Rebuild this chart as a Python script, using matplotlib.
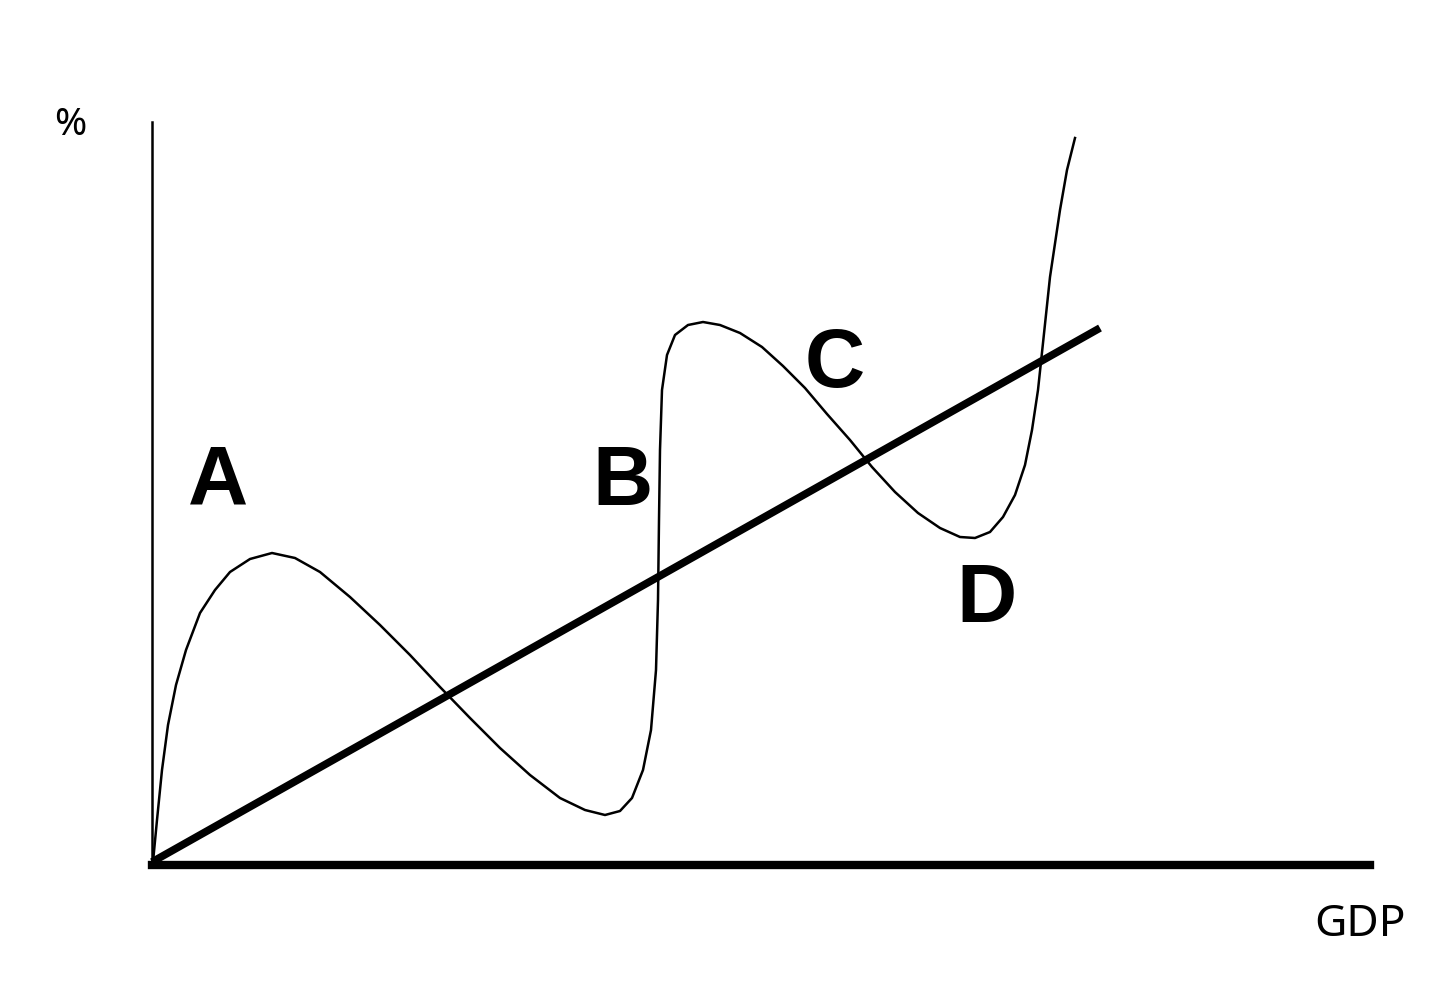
import matplotlib.pyplot as plt

# curve (GDP, %)
curve_x = [0.1, 0.5, 1.0, 1.6, 2.4, 3.4, 4.8, 6.3, 7.8, 9.8, 12.0, 14.3, 16.8, 19.8, 22.8,
           25.8, 28.8, 31.8, 34.8, 37.8, 40.8, 43.3, 45.3, 46.8, 48.0, 49.1, 49.9, 50.4,
           50.6, 50.7, 50.8, 51.0, 51.5, 52.3, 53.6, 55.1, 56.8, 58.8, 61.0, 63.1, 65.3,
           67.5, 69.8, 72.0, 74.3, 76.6, 78.8, 80.8, 82.3, 83.8, 85.1, 86.3, 87.3, 88.0,
           88.6, 89.1, 89.8, 90.8, 91.5, 92.3]
curve_y = [0.3, 4.5, 9.5, 14.0, 18.0, 21.5, 25.2, 27.5, 29.3, 30.6, 31.2, 30.7, 29.3, 26.8,
           24.0, 21.0, 17.8, 14.7, 11.7, 9.0, 6.7, 5.5, 5.0, 5.4, 6.7, 9.5, 13.5, 19.5,
           26.5, 34.5, 41.5, 47.5, 51.0, 53.0, 54.0, 54.3, 54.0, 53.2, 51.8, 49.9, 47.7,
           45.1, 42.5, 39.8, 37.3, 35.2, 33.7, 32.8, 32.7, 33.3, 34.8, 37.0, 40.0, 43.5,
           47.5, 52.2, 58.8, 65.5, 69.5, 72.7]

line_x = [0, 94.8]
line_y = [0.3, 53.7]

labels = ['A', 'B', 'C', 'D']
label_x = [6.6, 47.1, 68.3, 83.5]
label_y = [38.2, 38.2, 50.0, 26.5]

plt.rcParams['font.family'] = ['Noto Sans', 'DejaVu Sans']

fig = plt.figure(figsize=(14.4, 9.88), dpi=100)
ax = fig.add_axes([152/1440, (988-865)/988, (1370-152)/1440, (865-122)/988])

ax.plot(curve_x, curve_y, color='black', lw=1.8, solid_joinstyle='round', clip_on=False)
ax.plot(line_x, line_y, color='black', lw=5.5, solid_capstyle='butt', clip_on=False)

for t, x, y in zip(labels, label_x, label_y):
    ax.text(x, y, t, fontsize=60, fontweight='bold', family=['Liberation Sans', 'DejaVu Sans'],
            ha='center', va='center')

ax.text(-8.2, 74, '%', fontsize=28, ha='center', va='center', clip_on=False)
ax.text(120.8, -6, 'GDP', fontsize=32, ha='center', va='center', clip_on=False)

ax.set_xlim(0, 121.8)
ax.set_ylim(0, 74.3)
ax.spines['top'].set_visible(False)
ax.spines['right'].set_visible(False)
ax.spines['left'].set_linewidth(1.8)
ax.spines['bottom'].set_linewidth(6)
ax.set_xticks([])
ax.set_yticks([])

fig.savefig('out.png', dpi=100)
